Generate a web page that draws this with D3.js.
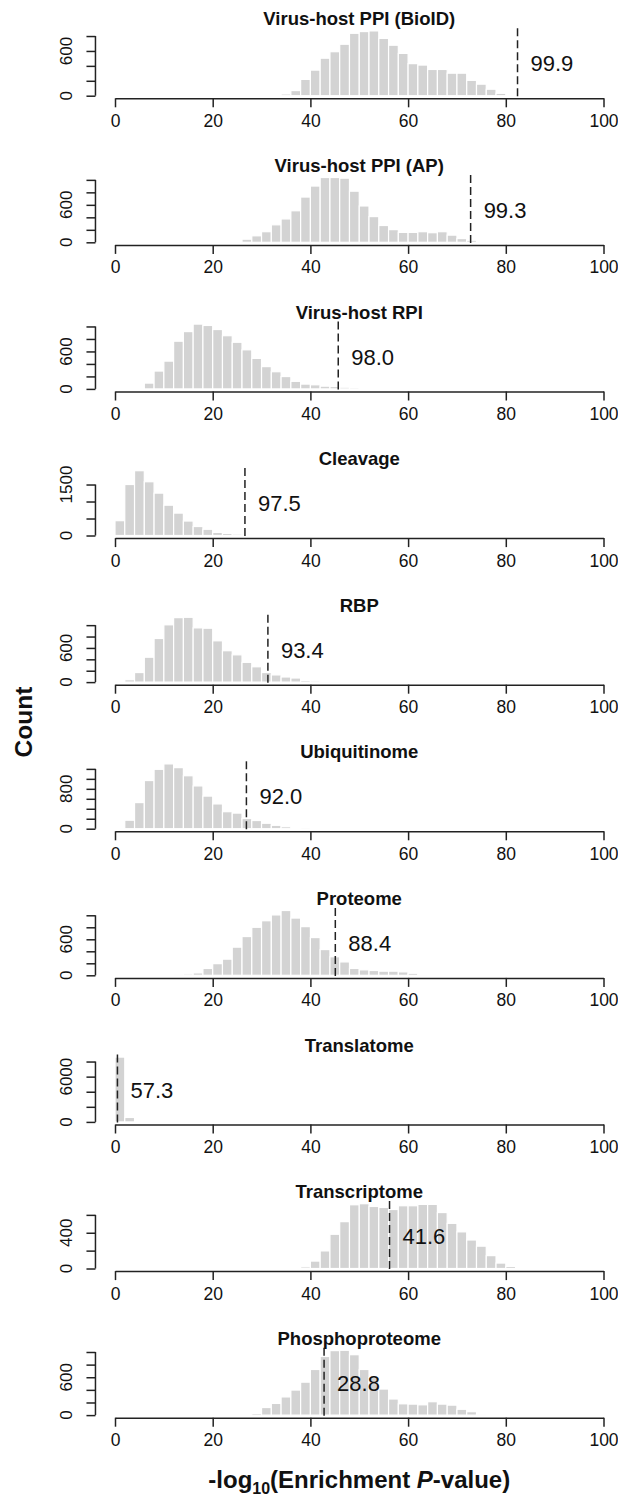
<!DOCTYPE html>
<html>
<head>
<meta charset="utf-8">
<script src="https://cdn.jsdelivr.net/npm/d3@7"></script>
<style>
  body { margin: 0; background: #fff; }
  text { font-family: "Liberation Sans", Arial, sans-serif; fill: #111; }
</style>
</head>
<body>
<svg id="chart" width="618" height="1501"></svg>
<script>
const titles = ["Virus-host PPI (BioID)", "Virus-host PPI (AP)", "Virus-host RPI", "Cleavage", "RBP",
  "Ubiquitinome", "Proteome", "Translatome", "Transcriptome", "Phosphoproteome"];
const firstBin = [34, 26, 4, 0, 2, 0, 12, 0, 38, 28];
const binWidth = 2;

const bioidCounts = [23, 69, 219, 343, 503, 590, 690, 837, 860, 869, 768, 677, 567, 430, 411, 352, 352, 302, 302, 206, 155, 87, 32];
const apCounts = [50, 104, 170, 280, 374, 505, 725, 901, 1038, 1038, 1027, 819, 582, 412, 269, 203, 159, 159, 170, 154, 170, 115, 60, 33];
const rpiCounts = [11, 93, 286, 445, 764, 918, 1038, 1016, 951, 852, 747, 626, 489, 357, 275, 198, 121, 77, 66, 44, 38, 27, 22, 6];
const cleavageCounts = [436, 1501, 1907, 1582, 1247, 892, 659, 426, 264, 183, 91, 61, 41, 20, 10];
const rbpCounts = [42, 168, 437, 766, 1006, 1132, 1138, 952, 946, 725, 551, 479, 347, 269, 168, 126, 90, 72, 30, 24, 18, 18];
const ubiCounts = [13, 170, 524, 966, 1191, 1300, 1225, 1062, 858, 654, 497, 341, 313, 204, 164, 109, 68, 40, 13, 26, 13, 13];
const proteomeCounts = [6, 23, 40, 114, 194, 269, 469, 646, 800, 909, 1006, 1080, 954, 811, 629, 429, 309, 223, 114, 91, 80, 69, 69, 57, 34, 17];
const translatomeCounts = [8590, 590, 90];
const transcriptomeCounts = [19, 83, 197, 383, 524, 713, 725, 694, 683, 660, 702, 702, 717, 717, 626, 505, 410, 319, 250, 144, 61, 23];
const phosphoCounts = [27, 120, 185, 288, 397, 522, 723, 929, 1022, 1027, 957, 723, 598, 413, 255, 179, 174, 163, 212, 174, 158, 92, 54, 5];

const allCounts = [bioidCounts, apCounts, rpiCounts, cleavageCounts, rbpCounts,
  ubiCounts, proteomeCounts, translatomeCounts, transcriptomeCounts, phosphoCounts];

const cutoffs = [82.4, 72.8, 45.7, 26.6, 31.3, 26.9, 45.1, 0.5, 56.2, 42.8];
const cutoffLabels = ["99.9", "99.3", "98.0", "97.5", "93.4", "92.0", "88.4", "57.3", "41.6", "28.8"];
const yStep = [200, 200, 200, 500, 200, 200, 200, 2000, 200, 200];
const yLabeled = [[0, 600], [0, 600], [0, 600], [0, 1500], [0, 600], [0, 800], [0, 600], [0, 6000], [0, 400], [0, 600]];
const xTicks = [0, 20, 40, 60, 80, 100];

const svg = d3.select("#chart");
const x = d3.scaleLinear().domain([0, 100]).range([115, 603.5]);
const firstAxis = 98.3, panelGap = 146.6, plotH = 70;
const axisColor = "#222";

titles.forEach((title, i) => {
  const counts = allCounts[i];
  const M = d3.max(counts);
  const axisY = firstAxis + i * panelGap;
  const y = d3.scaleLinear().domain([-0.04 * M, 1.04 * M]).range([axisY, axisY - plotH]);
  const g = svg.append("g");

  const bins = counts.map((c, k) => ({ x0: firstBin[i] + k * binWidth, c }));

  g.selectAll("rect")
    .data(bins)
    .join("rect")
    .attr("x", d => x(d.x0))
    .attr("width", d => x(d.x0 + binWidth) - x(d.x0))
    .attr("y", d => y(d.c))
    .attr("height", d => y(0) - y(d.c))
    .attr("fill", "#d3d3d3")
    .attr("stroke", "#fff")
    .attr("stroke-width", 1.2);

  // x axis
  const xa = g.append("g")
    .attr("transform", `translate(0,${axisY})`)
    .call(d3.axisBottom(x).tickValues(xTicks).tickSize(9).tickSizeOuter(0).tickPadding(7));
  xa.selectAll("path, line").attr("stroke", axisColor).attr("stroke-width", 1.5);
  xa.selectAll("text").attr("font-size", 17.5).attr("fill", "#111")
    .style("font-family", "'Liberation Sans', Arial, sans-serif");

  // y axis
  const yTicks = d3.range(0, 1.04 * M, yStep[i]);
  const axX = x(-4);
  const ya = g.append("g")
    .attr("transform", `translate(${axX},0)`)
    .call(d3.axisLeft(y).tickValues(yTicks).tickSize(9).tickFormat(""));
  ya.select(".domain").remove();
  ya.selectAll("line").attr("stroke", axisColor).attr("stroke-width", 1.5);
  g.append("line")
    .attr("x1", axX).attr("x2", axX)
    .attr("y1", y(0)).attr("y2", y(yTicks[yTicks.length - 1]))
    .attr("stroke", axisColor).attr("stroke-width", 1.5);

  g.selectAll(".ylab")
    .data(yLabeled[i])
    .join("text")
    .attr("class", "ylab")
    .attr("transform", v => `translate(72,${y(v)}) rotate(-90)`)
    .attr("text-anchor", "middle")
    .attr("font-size", 17)
    .text(v => v);

  // cutoff line and its label
  g.append("line")
    .attr("x1", x(cutoffs[i])).attr("x2", x(cutoffs[i]))
    .attr("y1", axisY - plotH).attr("y2", axisY)
    .attr("stroke", "#222")
    .attr("stroke-width", 1.5)
    .attr("stroke-dasharray", "8,4");

  g.append("text")
    .attr("x", x(cutoffs[i]) + 13)
    .attr("y", axisY - 27)
    .attr("font-size", 22)
    .text(cutoffLabels[i]);

  g.append("text")
    .attr("x", x(50))
    .attr("y", axisY - 73)
    .attr("text-anchor", "middle")
    .attr("font-size", 18.5)
    .attr("font-weight", "bold")
    .text(title);
});

svg.append("text")
  .attr("transform", "translate(32,722) rotate(-90)")
  .attr("text-anchor", "middle")
  .attr("font-size", 24.5)
  .attr("font-weight", "bold")
  .text("Count");

const xl = svg.append("text")
  .attr("x", x(50))
  .attr("y", 1488)
  .attr("text-anchor", "middle")
  .attr("font-size", 24)
  .attr("font-weight", "bold");
xl.append("tspan").text("-log");
xl.append("tspan").attr("font-size", 16).attr("dy", 6).text("10");
xl.append("tspan").attr("dy", -6).text("(Enrichment ");
xl.append("tspan").attr("font-style", "italic").text("P");
xl.append("tspan").text("-value)");
</script>
</body>
</html>
